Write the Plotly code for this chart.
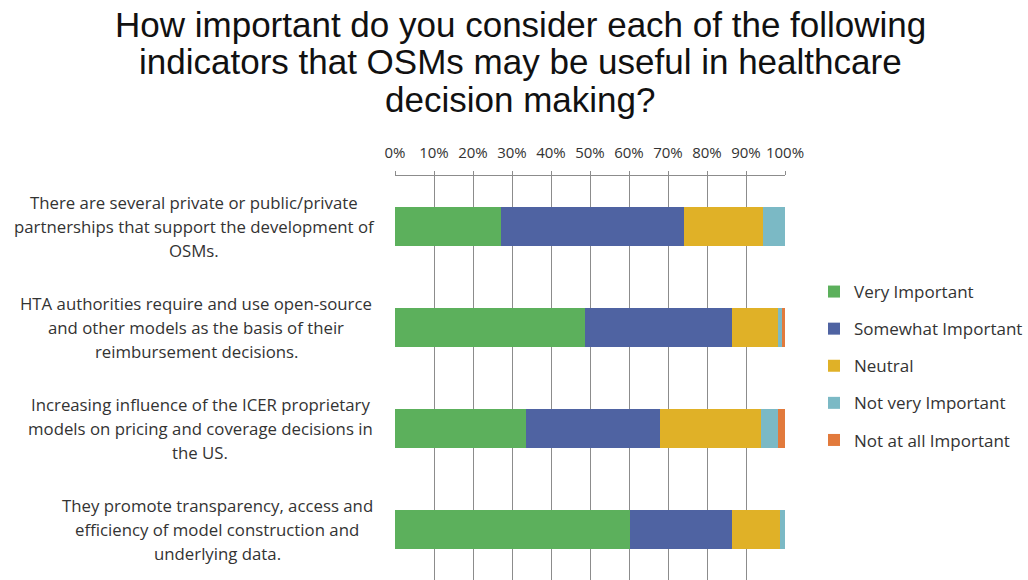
import plotly.graph_objects as go

# Survey statements (top to bottom) and response shares in percent
categories = [
    "There are several private or public/private partnerships that support the development of OSMs.",
    "HTA authorities require and use open-source and other models as the basis of their reimbursement decisions.",
    "Increasing influence of the ICER proprietary models on pricing and coverage decisions in the US.",
    "They promote transparency, access and efficiency of model construction and underlying data.",
]
category_lines = [
    ["There are several private or public/private", "partnerships that support the development of", "OSMs."],
    ["HTA authorities require and use open-source", "and other models as the basis of their", "reimbursement decisions."],
    ["Increasing influence of the ICER proprietary", "models on pricing and coverage decisions in", "the US."],
    ["They promote transparency, access and", "efficiency of model construction and", "underlying data."],
]
series_names = ["Very Important", "Somewhat Important", "Neutral", "Not very Important", "Not at all Important"]
very_important = [27.2, 48.7, 33.6, 60.3]
somewhat_important = [46.8, 37.8, 34.3, 26.2]
neutral = [20.4, 11.8, 25.9, 12.2]
not_very_important = [5.6, 0.9, 4.3, 1.3]
not_at_all_important = [0.0, 0.8, 1.9, 0.0]
tick_values = [0, 10, 20, 30, 40, 50, 60, 70, 80, 90, 100]
tick_labels = ["0%", "10%", "20%", "30%", "40%", "50%", "60%", "70%", "80%", "90%", "100%"]
title_lines = [
    "How important do you consider each of the following",
    "indicators that OSMs may be useful in healthcare",
    "decision making?",
]

colors = ["#5CB05C", "#4F63A2", "#E0B127", "#7BB9C5", "#E27A3C"]
series_values = [very_important, somewhat_important, neutral, not_very_important, not_at_all_important]

W, H = 1028, 580
L, R, T, B = 395, 785, 176, 580  # plot area in pixels


def px_x(x):
    return (x - L) / (R - L)


def px_y(y):
    return (B - y) / (B - T)


fig = go.Figure()
for i, (name, vals, col) in enumerate(zip(series_names, series_values, colors)):
    fig.add_trace(go.Bar(
        y=categories, x=vals, name=name, orientation="h",
        marker=dict(color=col, line=dict(width=0)),
        legendgroup=name,
    ))

annotations = []
for ln, txt in enumerate(title_lines):
    annotations.append(dict(
        text=txt, xref="paper", yref="paper", x=px_x(520), y=px_y(24 + 37.5 * ln),
        xanchor="center", yanchor="middle", showarrow=False,
        font=dict(family="Liberation Sans", size=35, color="#111111"),
    ))

label_centers = [194, 196, 200, 217]
for cat, lines, cx in zip(categories, category_lines, label_centers):
    for ln, txt in enumerate(lines):
        annotations.append(dict(
            text=txt, xref="paper", yref="y", x=px_x(cx), y=cat,
            yshift=-(ln - 1) * 24, xanchor="center", yanchor="middle",
            showarrow=False,
            font=dict(family="Open Sans", size=16.8, color="#333333"),
        ))

fig.update_layout(
    barmode="stack",
    bargap=0.61,
    width=W, height=H,
    margin=dict(l=L, r=W - R, t=T, b=H - B, pad=0),
    paper_bgcolor="white", plot_bgcolor="white",
    showlegend=True,
    legend=dict(
        x=px_x(814), y=px_y(274), xanchor="left", yanchor="top",
        traceorder="grouped", tracegroupgap=12,
        font=dict(family="Open Sans", size=17, color="#333333"),
        itemwidth=30, bgcolor="rgba(0,0,0,0)",
    ),
    annotations=annotations,
    xaxis=dict(
        side="top", range=[0, 100], tickvals=tick_values, ticktext=tick_labels,
        showgrid=True, gridcolor="#8C8C8C", gridwidth=1.2,
        showline=True, linecolor="#8C8C8C", linewidth=1.2,
        ticks="outside", ticklen=4, tickcolor="#8C8C8C",
        tickfont=dict(family="Open Sans", size=15, color="#333333"),
        ticklabelstandoff=7, zeroline=False, fixedrange=True,
    ),
    yaxis=dict(
        autorange="reversed", showticklabels=False, showgrid=False,
        showline=False, ticks="", zeroline=False, fixedrange=True,
    ),
)

fig.write_html("out.html")
